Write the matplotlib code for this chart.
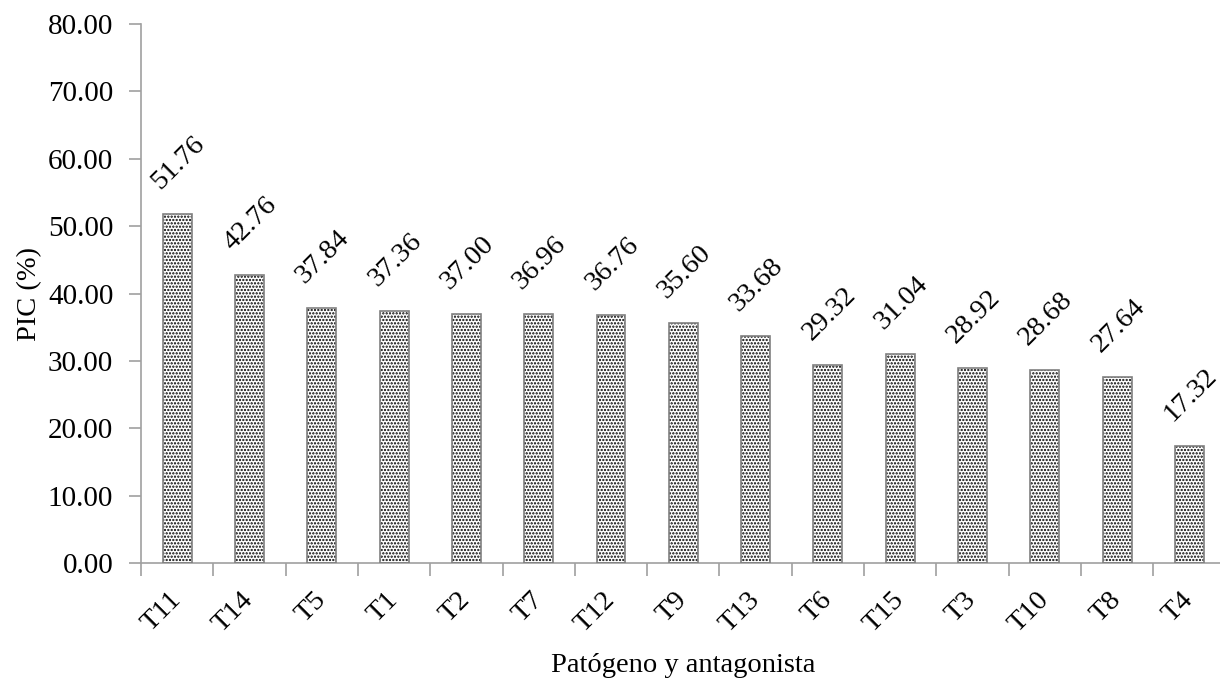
import matplotlib
matplotlib.use("Agg")
from matplotlib import pyplot as plt
import numpy as np

# data
labels = ['T11', 'T14', 'T5', 'T1', 'T2', 'T7', 'T12', 'T9', 'T13',
          'T6', 'T15', 'T3', 'T10', 'T8', 'T4']
pic = [51.76, 42.76, 37.84, 37.36, 37.00, 36.96, 36.76, 35.60, 33.68,
       29.32, 31.04, 28.92, 28.68, 27.64, 17.32]
yticks = [0, 10, 20, 30, 40, 50, 60, 70, 80]

plt.rcParams['font.family'] = ['Liberation Serif', 'DejaVu Serif']
plt.rcParams['hatch.linewidth'] = 1.1
plt.rcParams['hatch.color'] = 'black'

fig = plt.figure(figsize=(12.2, 6.78), dpi=100)
ax = fig.add_axes([0.1156, 0.1696, 0.889, 0.795])

x = np.arange(len(labels))
# dotted fill first, grey outline drawn over it
ax.bar(x, pic, width=0.4, color='white', edgecolor='black', linewidth=0,
       hatch='.....', antialiased=False, zorder=2)
ax.bar(x, pic, width=0.4, fill=False, edgecolor='#808080', linewidth=1.2,
       zorder=3)

for xi, v in zip(x, pic):
    ax.annotate('%.2f' % v, xy=(xi, v), xytext=(1, 37), textcoords='offset points',
                rotation=45, rotation_mode='anchor', ha='center', va='center',
                fontsize=20.5)

ax.set_xlim(-0.5, len(labels) - 0.5)
ax.set_ylim(0, 80)
ax.set_yticks(yticks)
ax.set_yticklabels(['%.2f' % t for t in yticks], fontsize=21)

ax.set_xticks(x)
ax.set_xticklabels(labels, rotation=45, ha='right', va='center',
                   rotation_mode='anchor', fontsize=20.5)
ax.set_xticks(np.arange(len(labels) + 1) - 0.5, minor=True)
ax.tick_params(axis='x', which='major', length=0, pad=24)
ax.tick_params(axis='x', which='minor', length=9, width=1.2, color='#a0a0a0')
ax.tick_params(axis='y', length=9, width=1.2, color='#a0a0a0', pad=11)

for side in ['top', 'right']:
    ax.spines[side].set_visible(False)
for side in ['left', 'bottom']:
    ax.spines[side].set_color('#a0a0a0')
    ax.spines[side].set_linewidth(1.2)

ax.set_ylabel('PIC (%)', fontsize=20.5, labelpad=4)
ax.set_xlabel('Patógeno y antagonista', fontsize=20.5, labelpad=11)

fig.savefig('out.png', dpi=100)
